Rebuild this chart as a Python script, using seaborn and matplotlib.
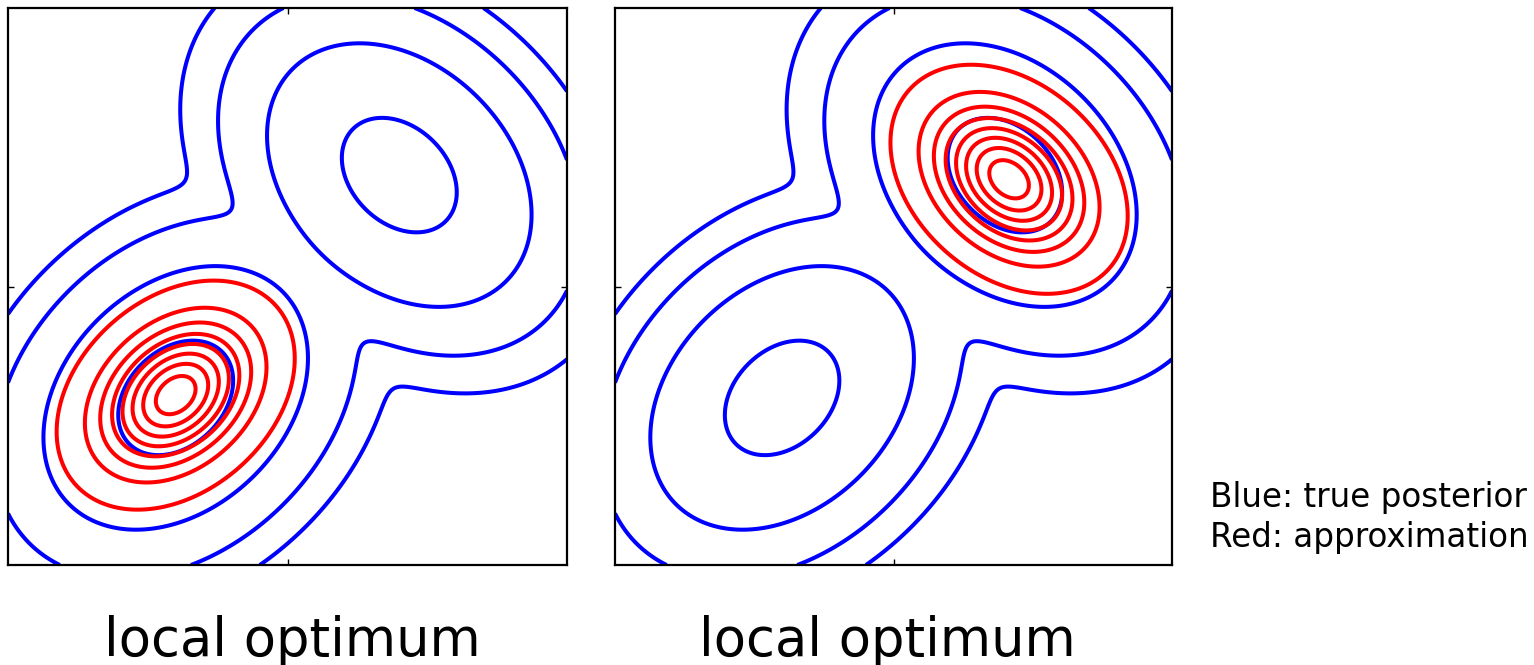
import numpy as np
import matplotlib
matplotlib.use("Agg")
import matplotlib.pyplot as plt
import seaborn as sns

# True posterior: equal-weight mixture of two correlated Gaussians
mix_weights = [0.5, 0.5]
mix_means = [(-0.40, -0.40), (0.40, 0.40)]
mix_sigmas = [(0.17, 0.17), (0.17, 0.17)]
mix_rhos = [0.30, -0.30]
blue_levels = [7e-5, 2.0e-3, 0.060, 1.39]

# Single-Gaussian approximations found at the two local optima
approx_means = [(-0.40, -0.39), (0.415, 0.385)]
approx_sigmas = [(0.174, 0.168), (0.174, 0.168)]
approx_rhos = [0.32, -0.32]
red_level_fracs = [0.05, 0.175, 0.30, 0.425, 0.55, 0.675, 0.80, 0.92]

panel_titles = ["local optimum", "local optimum"]
legend_lines = ["Blue: true posterior", "Red: approximation"]


def gauss2d(X, Y, mean, sig, rho):
    sx, sy = sig
    dx = (X - mean[0]) / sx
    dy = (Y - mean[1]) / sy
    q = (dx ** 2 - 2 * rho * dx * dy + dy ** 2) / (1 - rho ** 2)
    norm = 1.0 / (2 * np.pi * sx * sy * np.sqrt(1 - rho ** 2))
    return norm * np.exp(-0.5 * q), norm


sns.set_theme(style="white")
plt.rcParams["font.family"] = ["DejaVu Sans"]

grid = np.linspace(-1, 1, 701)
X, Y = np.meshgrid(grid, grid)

P = np.zeros_like(X)
for w, m, s, r in zip(mix_weights, mix_means, mix_sigmas, mix_rhos):
    P += w * gauss2d(X, Y, m, s, r)[0]

W, H = 1534, 665
fig = plt.figure(figsize=(W / 100, H / 100), dpi=100)
fig.patch.set_facecolor("white")

axes_px = [(8, 8, 559, 557), (615, 8, 557, 557)]
title_x = [292, 887.5]

for i, (x0, y0, w, h) in enumerate(axes_px):
    ax = fig.add_axes([x0 / W, 1 - (y0 + h) / H, w / W, h / H])
    ax.contour(X, Y, P, levels=blue_levels, colors=[(0, 0, 1)], linewidths=2.9)
    Q, peak = gauss2d(X, Y, approx_means[i], approx_sigmas[i], approx_rhos[i])
    ax.contour(X, Y, Q, levels=[f * peak for f in red_level_fracs],
               colors=[(1, 0, 0)], linewidths=2.9)
    ax.set_xlim(-1, 1)
    ax.set_ylim(-1, 1)
    ax.set_xticks([0])
    ax.set_yticks([0])
    ax.set_xticklabels([])
    ax.set_yticklabels([])
    ax.tick_params(direction="in", length=4, width=1, color="black",
                   top=True, right=True, bottom=True, left=True)
    for sp in ax.spines.values():
        sp.set_visible(True)
        sp.set_color("black")
        sp.set_linewidth(1.6)
    ax.set_facecolor("white")
    fig.text(title_x[i] / W, 1 - 656 / H, panel_titles[i], ha="center",
             va="baseline", fontsize=38, color="black")

fig.text(1210 / W, 1 - 507 / H, legend_lines[0], ha="left", va="baseline",
         fontsize=23.5, color="black")
fig.text(1210 / W, 1 - 547 / H, legend_lines[1], ha="left", va="baseline",
         fontsize=23.5, color="black")

fig.savefig("out.png", dpi=100, facecolor="white")
